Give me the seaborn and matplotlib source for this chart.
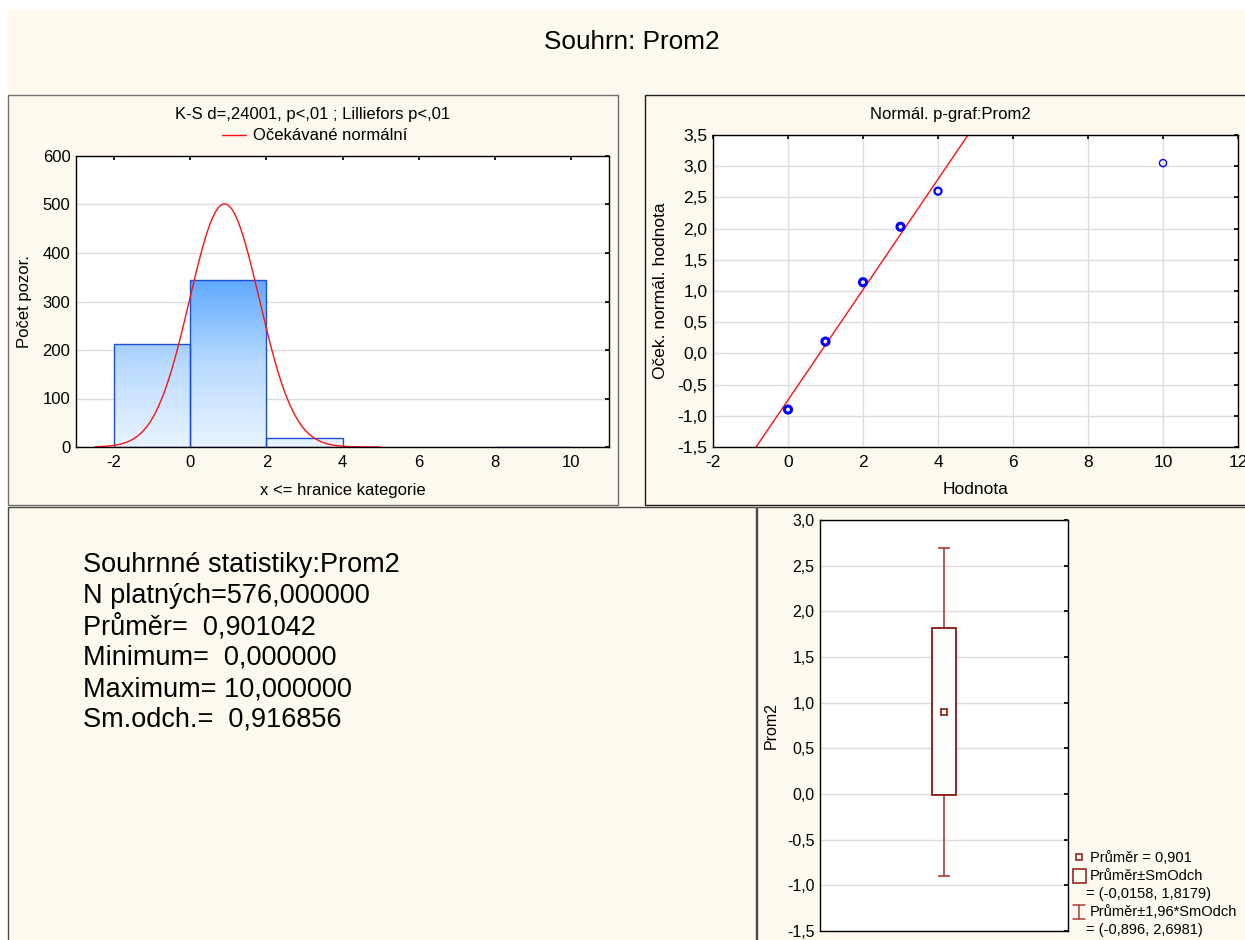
import numpy as np
import matplotlib
matplotlib.use("Agg")
import matplotlib.pyplot as plt
import seaborn as sns
from matplotlib.patches import Rectangle
from matplotlib.lines import Line2D
from matplotlib.colors import LinearSegmentedColormap
from matplotlib.ticker import FuncFormatter, MultipleLocator

# ---------------------------------------------------------
# Data (read from the Statistica summary)
# ---------------------------------------------------------
var_name = "Prom2"
n_valid = 576
mean_val = 0.901042
sd_val = 0.916856
min_val = 0.0
max_val = 10.0

# histogram: category upper bounds and counts
bin_edges = [-2, 0, 2, 4, 6, 8, 10]
bin_counts = [212, 345, 18, 0, 0, 1]
bin_width = 2

# normal probability plot
pp_values = [0, 1, 2, 3, 4, 10]
pp_expected = [-0.90, 0.19, 1.14, 2.03, 2.60, 3.05]
pp_line_x = [-0.85, 4.80]
pp_line_y = [-1.5, 3.5]

# box plot: mean, mean +- sd, mean +- 1.96 sd
box_mean = 0.901
box_low, box_high = -0.0158, 1.8179
whisk_low, whisk_high = -0.896, 2.6981

stats_lines = [
    "Souhrnné statistiky:Prom2",
    "N platných=576,000000",
    "Průměr=  0,901042",
    "Minimum=  0,000000",
    "Maximum= 10,000000",
    "Sm.odch.=  0,916856",
]

# ---------------------------------------------------------
# Style
# ---------------------------------------------------------
sns.set_theme(style="white")
plt.rcParams["font.family"] = ["Liberation Sans", "DejaVu Sans"]
plt.rcParams["axes.unicode_minus"] = False
plt.rcParams["text.color"] = "black"
plt.rcParams["axes.labelcolor"] = "black"
plt.rcParams["axes.edgecolor"] = "black"
plt.rcParams["axes.linewidth"] = 1.0

CREAM = "#FEF9EE"
GRID = "#DCDCDC"
DARKRED = "#8E1414"
WHISK = "#AA3A3A"

W, H = 1245, 940
fig = plt.figure(figsize=(W / 100, H / 100), dpi=100, facecolor="white")


def fx(x):
    return x / W


def fy(y):
    return 1 - y / H


def add_ax(l, t, r, b):
    return fig.add_axes([l / W, 1 - b / H, (r - l) / W, (b - t) / H])


def frame(l, t, r, b, color):
    fig.add_artist(Rectangle((fx(l), fy(b)), (r - l) / W, (b - t) / H,
                             transform=fig.transFigure, fill=False,
                             edgecolor=color, lw=1.0, zorder=0))


def comma(dec):
    return FuncFormatter(lambda v, p: f"{v:.{dec}f}".replace(".", ","))


def style_ax(ax, size):
    ax.set_facecolor("white")
    ax.tick_params(axis="both", which="both", direction="in", length=3,
                   top=True, right=True, labelsize=size, colors="black")
    ax.tick_params(axis="x", pad=6)
    ax.tick_params(axis="y", pad=4)
    for s in ax.spines.values():
        s.set_color("black")
        s.set_linewidth(1)
        s.set_zorder(5)


def place_labels(ax, xpos=None, ypos=None):
    if xpos is not None:
        ax.xaxis.set_label_coords(*xpos)
        ax.xaxis.label.set_verticalalignment("center")
    if ypos is not None:
        ax.yaxis.set_label_coords(*ypos)
        ax.yaxis.label.set_verticalalignment("center")


# background and panel frames
fig.add_artist(Rectangle((fx(8), 0), (W - 8) / W, fy(10), transform=fig.transFigure,
                         facecolor=CREAM, edgecolor="none", zorder=-1))
frame(8, 95, 618, 505, "#6E6E6E")
frame(645, 95, 1260, 505, "#1E1E1E")
frame(8, 507, 756, 960, "#4A4A4A")
frame(757, 507, 1260, 960, "#4A4A4A")

fig.text(fx(632), fy(42), "Souhrn: " + var_name, ha="center", va="center", fontsize=18.8)

# ---------------------------------------------------------
# Histogram with expected normal curve
# ---------------------------------------------------------
ax1 = add_ax(76, 156, 609, 447)
mids = [(a + b) / 2 for a, b in zip(bin_edges[:-1], bin_edges[1:])]
sns.histplot(x=mids, weights=bin_counts, bins=bin_edges, ax=ax1, stat="count",
             color="#66AEFF", edgecolor="#1D4FD6", linewidth=1.0, alpha=1)

grad_cmap = LinearSegmentedColormap.from_list("bar", ["#E9F4FF", "#B9DAFF", "#5EA9FF"])
top = max(bin_counts)
for patch in ax1.patches:
    h = patch.get_height()
    if h <= 0:
        patch.set_visible(False)
        continue
    x0 = patch.get_x()
    x1 = x0 + patch.get_width()
    grad = np.linspace(0, h, 200).reshape(-1, 1)
    im = ax1.imshow(grad, extent=[x0, x1, 0, h], origin="lower", aspect="auto",
                    cmap=grad_cmap, vmin=0, vmax=top, zorder=1)
    im.set_clip_path(patch)
    patch.set_facecolor("none")
    patch.set_zorder(2)

# expected normal counts per category of width 2 (right tail runs into the axis)
xs = np.linspace(-2.5, 5.0, 400)
ys = n_valid * bin_width * np.exp(-0.5 * ((xs - mean_val) / sd_val) ** 2) / (sd_val * np.sqrt(2 * np.pi))
sns.lineplot(x=xs, y=ys, ax=ax1, color="#FF1010", lw=1.0, zorder=3)

ax1.set_xlim(-3, 11)
ax1.set_ylim(0, 600)
ax1.xaxis.set_major_locator(MultipleLocator(2))
ax1.yaxis.set_major_locator(MultipleLocator(100))
ax1.yaxis.grid(True, color=GRID, lw=1)
ax1.set_axisbelow(True)
style_ax(ax1, 12)
ax1.set_xlabel("x <= hranice kategorie", fontsize=12)
ax1.set_ylabel("Počet pozor.", fontsize=12)
place_labels(ax1, (0.5, -(490 - 447) / 291), ((25 - 76) / 533, 0.5))

fig.text(fx(313), fy(114), "K-S d=,24001, p<,01 ; Lilliefors p<,01",
         ha="center", va="center", fontsize=12)
fig.add_artist(Line2D([fx(222), fx(246)], [fy(135), fy(135)], color="#FF1010",
                      lw=1.0, transform=fig.transFigure))
fig.text(fx(253), fy(135), "Očekávané normální", ha="left", va="center", fontsize=12)

# ---------------------------------------------------------
# Normal probability plot
# ---------------------------------------------------------
ax2 = add_ax(713, 135, 1238, 447)
pp_lw = [2.2, 2.2, 2.2, 2.2, 1.6, 1.0]
sns.lineplot(x=pp_line_x, y=pp_line_y, ax=ax2, color="#FF1010", lw=1.0, zorder=2)
sns.scatterplot(x=pp_values, y=pp_expected, ax=ax2, marker="o", s=26,
                facecolor="none", edgecolor="#0000FF", linewidth=pp_lw, zorder=3)
ax2.set_xlim(-2, 12)
ax2.set_ylim(-1.5, 3.5)
ax2.xaxis.set_major_locator(MultipleLocator(2))
ax2.yaxis.set_major_locator(MultipleLocator(0.5))
ax2.yaxis.set_major_formatter(comma(1))
ax2.grid(True, color=GRID, lw=1)
ax2.set_axisbelow(True)
style_ax(ax2, 12.5)
ax2.set_xlabel("Hodnota", fontsize=12.5)
ax2.set_ylabel("Oček. normál. hodnota", fontsize=12.5)
place_labels(ax2, (0.5, -(490 - 447) / 312), ((661 - 713) / 525, 0.5))
fig.text(fx(950), fy(114), "Normál. p-graf:" + var_name, ha="center", va="center", fontsize=12)

# ---------------------------------------------------------
# Summary statistics text
# ---------------------------------------------------------
for i, line in enumerate(stats_lines):
    fig.text(fx(83), fy(565 + i * 31), line, ha="left", va="center", fontsize=19.5)

# ---------------------------------------------------------
# Box plot: mean, mean+-SD, mean+-1.96*SD
# ---------------------------------------------------------
ax3 = add_ax(820, 520, 1068, 931)
box_w = 0.097
cap_w = 0.045
ax3.vlines(0, whisk_low, box_low, color=WHISK, lw=1.2, zorder=2)
ax3.vlines(0, box_high, whisk_high, color=WHISK, lw=1.2, zorder=2)
ax3.hlines([whisk_low, whisk_high], -cap_w / 2, cap_w / 2, color=WHISK, lw=1.2, zorder=2)
ax3.bar(0, box_high - box_low, bottom=box_low, width=box_w, facecolor="white",
        edgecolor=DARKRED, lw=1.3, zorder=3)
ax3.plot([0], [box_mean], marker="s", ms=5, mfc="none", mec=DARKRED, mew=1.2, zorder=4)
ax3.set_xlim(-0.5, 0.5)
ax3.set_ylim(-1.5, 3.0)
ax3.set_xticks([])
ax3.yaxis.set_major_locator(MultipleLocator(0.5))
ax3.yaxis.set_major_formatter(comma(1))
ax3.yaxis.grid(True, color=GRID, lw=1)
ax3.set_axisbelow(True)
style_ax(ax3, 11.5)
ax3.tick_params(axis="x", top=False, bottom=False)
ax3.set_ylabel(var_name, fontsize=11.5)
place_labels(ax3, None, ((771 - 820) / 248, 0.5))

# legend of the box plot
fig.add_artist(Line2D([fx(1079)], [fy(857)], marker="s", ms=4.5, mfc="none",
                      mec=DARKRED, mew=1.1, transform=fig.transFigure))
fig.add_artist(Rectangle((fx(1073), fy(883)), 13 / W, 14 / H, transform=fig.transFigure,
                         fill=False, edgecolor=DARKRED, lw=1.1))
fig.add_artist(Line2D([fx(1079), fx(1079)], [fy(905), fy(919)], color=WHISK, lw=1.1,
                      transform=fig.transFigure))
for yy in (905, 919):
    fig.add_artist(Line2D([fx(1073), fx(1085)], [fy(yy), fy(yy)], color=WHISK, lw=1.1,
                          transform=fig.transFigure))
leg_size = 10.5
fig.text(fx(1090), fy(858), "Průměr = 0,901", va="center", fontsize=leg_size)
fig.text(fx(1090), fy(876), "Průměr±SmOdch", va="center", fontsize=leg_size)
fig.text(fx(1086), fy(894), "= (-0,0158, 1,8179)", va="center", fontsize=leg_size)
fig.text(fx(1090), fy(912), "Průměr±1,96*SmOdch", va="center", fontsize=leg_size)
fig.text(fx(1086), fy(930), "= (-0,896, 2,6981)", va="center", fontsize=leg_size)

fig.savefig("out.png", dpi=100, facecolor="white")
